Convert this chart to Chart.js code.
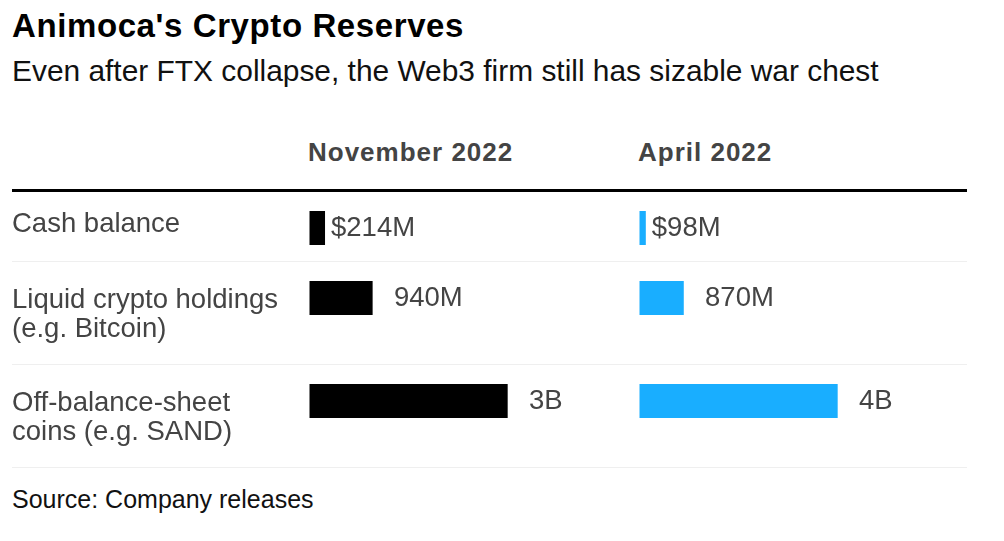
<!DOCTYPE html>
<html>
<head>
<meta charset="utf-8">
<script src="https://cdn.jsdelivr.net/npm/chart.js@4.4.0/dist/chart.umd.min.js"></script>
<style>
  html, body { margin: 0; padding: 0; background: #fff; }
  #page {
    position: relative;
    width: 1004px;
    height: 541px;
    overflow: hidden;
    font-family: "Liberation Sans", Arial, Helvetica, sans-serif;
  }
  .txt { position: absolute; white-space: nowrap; line-height: 1; }
  #title { left: 12px; top: 9.4px; font-size: 33px; font-weight: bold; letter-spacing: 0.6px; color: #000; }
  #subtitle { left: 12px; top: 56.4px; font-size: 29.9px; color: #111; }
  .head { top: 138.7px; font-size: 26px; font-weight: bold; letter-spacing: 1px; color: #444; }
  #source { left: 12px; top: 486.5px; font-size: 25px; color: #111; }
  .rule { position: absolute; left: 12px; width: 955px; }
  #topRule { top: 189px; height: 3px; background: #000; }
  .sep { height: 1px; background: #efefef; }
  canvas.row { position: absolute; left: 0; }
</style>
</head>
<body>
<div id="page">
  <div class="txt" id="title">Animoca's Crypto Reserves</div>
  <div class="txt" id="subtitle">Even after FTX collapse, the Web3 firm still has sizable war chest</div>
  <div class="rule" id="topRule"></div>
  <div class="txt" id="source">Source: Company releases</div>
</div>
<script>
// table rows and the two snapshots, values in $ millions
const rowLabels = [
  ["Cash balance"],
  ["Liquid crypto holdings", "(e.g. Bitcoin)"],
  ["Off-balance-sheet", "coins (e.g. SAND)"],
];
const columnTitles = ["November 2022", "April 2022"];
const novValues = [214, 940, 3000];
const aprValues = [98, 870, 4000];
const novText = ["$214M", "940M", "3B"];
const aprText = ["$98M", "870M", "4B"];

// layout
const colLeft = [308, 638];
const rowTops = [192, 262, 365];
const sepTops = [261, 364, 467];
const labelShift = [-4, 17, 17];
const longestBar = 0.596; // share of a column taken by its biggest bar

Chart.defaults.font.family = '"Liberation Sans", Arial, Helvetica, sans-serif';

const page = document.getElementById("page");

columnTitles.forEach((t, i) => {
  const el = document.createElement("div");
  el.className = "txt head";
  el.style.left = colLeft[i] + "px";
  el.textContent = t;
  page.appendChild(el);
});

sepTops.forEach((top) => {
  const el = document.createElement("div");
  el.className = "rule sep";
  el.style.top = top + "px";
  page.appendChild(el);
});

// value text to the right of each bar; rows without "$" keep its room
const valueLabels = {
  id: "valueLabels",
  afterDatasetsDraw(chart) {
    const ctx = chart.ctx;
    ctx.save();
    ctx.font = '27.5px "Liberation Sans", Arial, sans-serif';
    ctx.fillStyle = "#444";
    ctx.textAlign = "left";
    ctx.textBaseline = "middle";
    const dollar = ctx.measureText("$").width;
    chart.data.datasets.forEach((ds, d) => {
      chart.getDatasetMeta(d).data.forEach((bar, j) => {
        const text = ds.valueText[j];
        const x = bar.x + 7.5 + (text.startsWith("$") ? 0 : dollar);
        ctx.fillText(text, x, bar.y);
      });
    });
    ctx.restore();
  },
};

rowLabels.forEach((label, i) => {
  const canvas = document.createElement("canvas");
  canvas.className = "row";
  canvas.width = 1004;
  canvas.height = 100;
  canvas.style.top = rowTops[i] + "px";
  page.appendChild(canvas);

  new Chart(canvas, {
    type: "bar",
    data: {
      labels: [label],
      datasets: [
        {
          data: [novValues[i]],
          valueText: [novText[i]],
          xAxisID: "x1",
          backgroundColor: "#000000",
          inflateAmount: 1.5,
        },
        {
          data: [aprValues[i]],
          valueText: [aprText[i]],
          xAxisID: "x2",
          backgroundColor: "#19aeff",
          inflateAmount: 1.5,
        },
      ],
    },
    options: {
      indexAxis: "y",
      responsive: false,
      animation: false,
      events: [],
      layout: { padding: { left: 12, right: 34.5, top: 0, bottom: 28 } },
      datasets: {
        bar: { grouped: false, barThickness: 31, borderWidth: 0 },
      },
      plugins: {
        legend: { display: false },
        tooltip: { enabled: false },
      },
      scales: {
        y: {
          type: "category",
          grid: { display: false },
          border: { display: false },
          ticks: {
            crossAlign: "far",
            color: "#444",
            padding: 0,
            labelOffset: labelShift[i],
            font: { size: 27.5, lineHeight: 1.08 },
          },
          afterFit: (scale) => {
            // fixed label column, and no extra room for tall labels
            scale.width = 297.5;
            scale.paddingTop = 0;
            scale.paddingBottom = 0;
          },
        },
        x1: {
          type: "linear",
          position: "bottom",
          stack: "cols",
          min: 0,
          max: Math.max(...novValues) / longestBar,
          display: false,
        },
        x2: {
          type: "linear",
          position: "bottom",
          stack: "cols",
          min: 0,
          max: Math.max(...aprValues) / longestBar,
          display: false,
        },
      },
    },
    plugins: [valueLabels],
  });
});
</script>
</body>
</html>
